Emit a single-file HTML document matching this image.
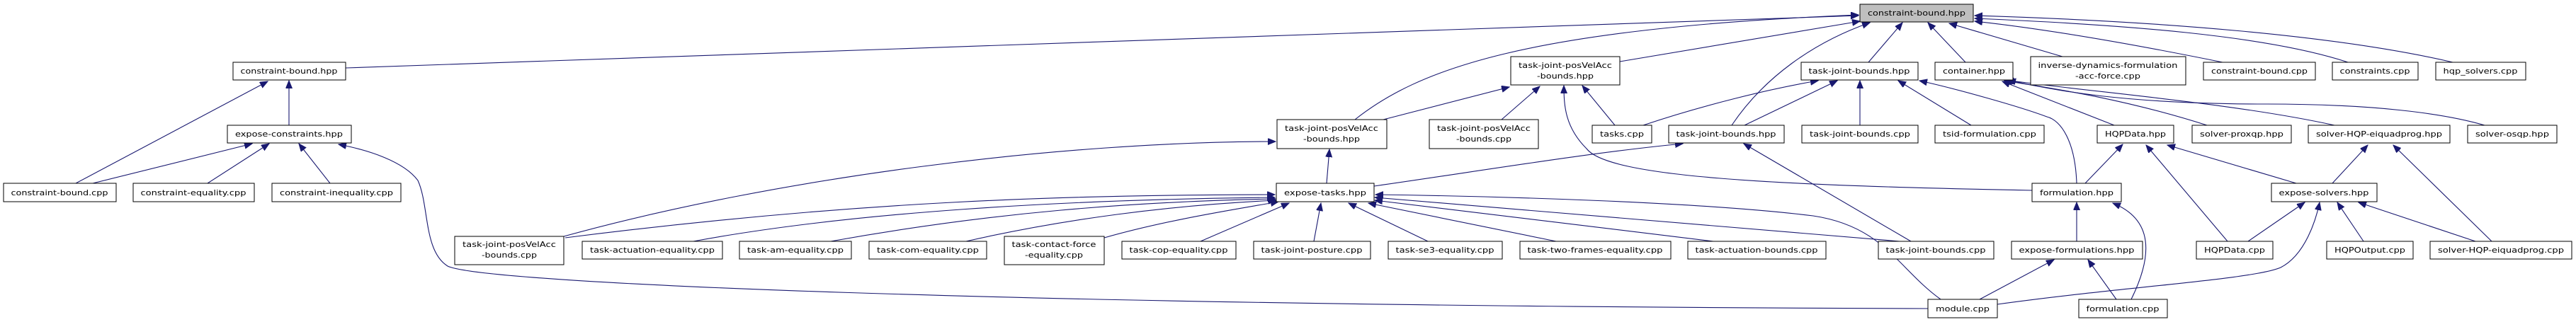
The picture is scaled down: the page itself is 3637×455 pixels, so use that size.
<!DOCTYPE html>
<html><head><meta charset="utf-8"><style>
html,body{margin:0;padding:0;background:#fff;}
svg{display:block;}
text{font-family:"DejaVu Sans","Liberation Sans",sans-serif;font-size:11px;fill:#000;}
rect{fill:#fff;stroke:#000;stroke-width:1;}
path{fill:none;stroke:#191970;stroke-width:1.1;}
</style></head><body>
<svg width="3637" height="455" viewBox="0 0 3637 455" xmlns="http://www.w3.org/2000/svg">
<defs><marker id="a" markerUnits="userSpaceOnUse" markerWidth="12" markerHeight="10" refX="11" refY="4.5" orient="auto"><path d="M0,0 L11,4.5 L0,9 Z" style="fill:#191970;stroke:#191970;stroke-width:1"/></marker></defs>
<g marker-end="url(#a)">
<path d="M488,96 L2624,22"/>
<path d="M1913,169 C2000,100 2150,40 2624,21"/>
<path d="M408,177 L408,114"/>
<path d="M107,259 L378,115"/>
<path d="M131,259 L356,203"/>
<path d="M293,259 L380,203"/>
<path d="M466,259 L422,203"/>
<path d="M2722,436 C1400,432 680,400 632,376 C598,355 606,290 590,255 C570,228 520,212 478,204"/>
<path d="M796,334 C1100,250 1500,200 1801,200"/>
<path d="M798,336 C1200,285 1500,275 1800,275"/>
<path d="M979,341 C1200,300 1500,282 1800,279"/>
<path d="M1173,341 C1400,300 1600,285 1801,281"/>
<path d="M1364,341 C1500,310 1650,290 1802,283"/>
<path d="M1559,336 C1650,310 1750,295 1805,285"/>
<path d="M1695,341 L1820,287"/>
<path d="M1855,341 L1865,287"/>
<path d="M2016,341 L1904,287"/>
<path d="M2197,341 L1932,287"/>
<path d="M2419,341 L1941,283"/>
<path d="M2682,341 L1941,279"/>
<path d="M2740,423 C2680,380 2660,320 2560,305 C2400,285 2100,277 1942,275"/>
<path d="M1873,259 L1877,211"/>
<path d="M1940,263 C2100,240 2250,215 2376,203"/>
<path d="M1953,169 L2131,123"/>
<path d="M2120,169 L2174,122"/>
<path d="M2280,177 L2234,121"/>
<path d="M2869,269 C2500,262 2270,250 2240,210 C2210,180 2208,150 2208,121"/>
<path d="M2287,87 L2626,30"/>
<path d="M2320,177 C2400,150 2500,125 2567,114"/>
<path d="M2463,177 L2594,114"/>
<path d="M2626,177 L2626,114"/>
<path d="M2445,177 C2490,110 2560,60 2640,32"/>
<path d="M2638,88 L2686,32"/>
<path d="M2698,341 L2462,203"/>
<path d="M2783,177 L2680,114"/>
<path d="M2932,259 C2930,200 2910,170 2890,165 C2850,150 2760,125 2710,114"/>
<path d="M2775,88 L2722,32"/>
<path d="M2912,80 L2752,33"/>
<path d="M3138,88 C3000,60 2880,40 2788,30"/>
<path d="M3315,88 C3200,50 3000,35 2788,26"/>
<path d="M3463,88 C3300,50 3050,30 2788,22"/>
<path d="M2985,177 L2827,115"/>
<path d="M3116,177 C3000,140 2900,125 2830,114"/>
<path d="M3296,177 C3150,145 2950,130 2832,113"/>
<path d="M3508,177 C3450,160 3350,147 3200,147 C3000,147 2900,128 2835,113"/>
<path d="M2944,259 L2997,204"/>
<path d="M3145,341 L3030,205"/>
<path d="M3242,259 L3060,205"/>
<path d="M3293,259 L3343,205"/>
<path d="M3518,341 L3379,205"/>
<path d="M2932,341 L2932,286"/>
<path d="M3009,423 C3040,360 3040,310 2983,287"/>
<path d="M2795,423 L2900,367"/>
<path d="M2988,423 L2948,367"/>
<path d="M3174,341 L3254,286"/>
<path d="M2820,430 C3000,405 3180,395 3220,378 C3255,360 3270,310 3275,286"/>
<path d="M3337,341 L3300,286"/>
<path d="M3495,341 L3330,286"/>
</g>
<g>
<rect x="2626" y="6" width="160" height="25" style="fill:#bfbfbf"/><text x="2706" y="22" text-anchor="middle" textLength="138" lengthAdjust="spacingAndGlyphs">constraint-bound.hpp</text>
<rect x="329" y="88" width="159" height="25"/><text x="408" y="104" text-anchor="middle" textLength="137" lengthAdjust="spacingAndGlyphs">constraint-bound.hpp</text>
<rect x="321" y="177" width="175" height="25"/><text x="408" y="193" text-anchor="middle" textLength="152" lengthAdjust="spacingAndGlyphs">expose-constraints.hpp</text>
<rect x="5" y="259" width="159" height="26"/><text x="84" y="276" text-anchor="middle" textLength="137" lengthAdjust="spacingAndGlyphs">constraint-bound.cpp</text>
<rect x="188" y="259" width="171" height="26"/><text x="273" y="276" text-anchor="middle" textLength="149" lengthAdjust="spacingAndGlyphs">constraint-equality.cpp</text>
<rect x="384" y="259" width="182" height="26"/><text x="475" y="276" text-anchor="middle" textLength="160" lengthAdjust="spacingAndGlyphs">constraint-inequality.cpp</text>
<rect x="642" y="334" width="154" height="40"/><text x="719" y="349" text-anchor="middle" textLength="132" lengthAdjust="spacingAndGlyphs">task-joint-posVelAcc</text><text x="719" y="364" text-anchor="middle" textLength="78" lengthAdjust="spacingAndGlyphs">-bounds.cpp</text>
<rect x="822" y="341" width="198" height="25"/><text x="921" y="357" text-anchor="middle" textLength="176" lengthAdjust="spacingAndGlyphs">task-actuation-equality.cpp</text>
<rect x="1044" y="341" width="158" height="25"/><text x="1123" y="357" text-anchor="middle" textLength="136" lengthAdjust="spacingAndGlyphs">task-am-equality.cpp</text>
<rect x="1227" y="341" width="166" height="25"/><text x="1310" y="357" text-anchor="middle" textLength="144" lengthAdjust="spacingAndGlyphs">task-com-equality.cpp</text>
<rect x="1418" y="334" width="141" height="40"/><text x="1488" y="349" text-anchor="middle" textLength="119" lengthAdjust="spacingAndGlyphs">task-contact-force</text><text x="1488" y="364" text-anchor="middle" textLength="82" lengthAdjust="spacingAndGlyphs">-equality.cpp</text>
<rect x="1584" y="341" width="161" height="25"/><text x="1664" y="357" text-anchor="middle" textLength="139" lengthAdjust="spacingAndGlyphs">task-cop-equality.cpp</text>
<rect x="1770" y="341" width="165" height="25"/><text x="1852" y="357" text-anchor="middle" textLength="143" lengthAdjust="spacingAndGlyphs">task-joint-posture.cpp</text>
<rect x="1960" y="341" width="161" height="25"/><text x="2040" y="357" text-anchor="middle" textLength="139" lengthAdjust="spacingAndGlyphs">task-se3-equality.cpp</text>
<rect x="2146" y="341" width="213" height="25"/><text x="2252" y="357" text-anchor="middle" textLength="191" lengthAdjust="spacingAndGlyphs">task-two-frames-equality.cpp</text>
<rect x="2383" y="341" width="195" height="25"/><text x="2480" y="357" text-anchor="middle" textLength="173" lengthAdjust="spacingAndGlyphs">task-actuation-bounds.cpp</text>
<rect x="2652" y="341" width="163" height="25"/><text x="2733" y="357" text-anchor="middle" textLength="141" lengthAdjust="spacingAndGlyphs">task-joint-bounds.cpp</text>
<rect x="1803" y="169" width="155" height="41"/><text x="1880" y="185" text-anchor="middle" textLength="132" lengthAdjust="spacingAndGlyphs">task-joint-posVelAcc</text><text x="1880" y="200" text-anchor="middle" textLength="80" lengthAdjust="spacingAndGlyphs">-bounds.hpp</text>
<rect x="1802" y="259" width="138" height="26"/><text x="1871" y="276" text-anchor="middle" textLength="116" lengthAdjust="spacingAndGlyphs">expose-tasks.hpp</text>
<rect x="2133" y="80" width="154" height="40"/><text x="2210" y="96" text-anchor="middle" textLength="132" lengthAdjust="spacingAndGlyphs">task-joint-posVelAcc</text><text x="2210" y="111" text-anchor="middle" textLength="80" lengthAdjust="spacingAndGlyphs">-bounds.hpp</text>
<rect x="2018" y="169" width="154" height="41"/><text x="2095" y="185" text-anchor="middle" textLength="132" lengthAdjust="spacingAndGlyphs">task-joint-posVelAcc</text><text x="2095" y="200" text-anchor="middle" textLength="78" lengthAdjust="spacingAndGlyphs">-bounds.cpp</text>
<rect x="2248" y="177" width="84" height="25"/><text x="2290" y="193" text-anchor="middle" textLength="62" lengthAdjust="spacingAndGlyphs">tasks.cpp</text>
<rect x="2356" y="177" width="163" height="25"/><text x="2437" y="193" text-anchor="middle" textLength="141" lengthAdjust="spacingAndGlyphs">task-joint-bounds.hpp</text>
<rect x="2544" y="177" width="164" height="25"/><text x="2626" y="193" text-anchor="middle" textLength="142" lengthAdjust="spacingAndGlyphs">task-joint-bounds.cpp</text>
<rect x="2543" y="88" width="165" height="25"/><text x="2625" y="104" text-anchor="middle" textLength="143" lengthAdjust="spacingAndGlyphs">task-joint-bounds.hpp</text>
<rect x="2732" y="88" width="110" height="25"/><text x="2787" y="104" text-anchor="middle" textLength="88" lengthAdjust="spacingAndGlyphs">container.hpp</text>
<rect x="2867" y="80" width="219" height="40"/><text x="2976" y="96" text-anchor="middle" textLength="197" lengthAdjust="spacingAndGlyphs">inverse-dynamics-formulation</text><text x="2976" y="111" text-anchor="middle" textLength="92" lengthAdjust="spacingAndGlyphs">-acc-force.cpp</text>
<rect x="3111" y="88" width="158" height="25"/><text x="3190" y="104" text-anchor="middle" textLength="136" lengthAdjust="spacingAndGlyphs">constraint-bound.cpp</text>
<rect x="3293" y="88" width="121" height="25"/><text x="3353" y="104" text-anchor="middle" textLength="99" lengthAdjust="spacingAndGlyphs">constraints.cpp</text>
<rect x="3439" y="88" width="127" height="25"/><text x="3502" y="104" text-anchor="middle" textLength="105" lengthAdjust="spacingAndGlyphs">hqp_solvers.cpp</text>
<rect x="2732" y="177" width="154" height="25"/><text x="2809" y="193" text-anchor="middle" textLength="132" lengthAdjust="spacingAndGlyphs">tsid-formulation.cpp</text>
<rect x="2961" y="177" width="108" height="25"/><text x="3015" y="193" text-anchor="middle" textLength="86" lengthAdjust="spacingAndGlyphs">HQPData.hpp</text>
<rect x="3095" y="177" width="140" height="25"/><text x="3165" y="193" text-anchor="middle" textLength="118" lengthAdjust="spacingAndGlyphs">solver-proxqp.hpp</text>
<rect x="3259" y="177" width="200" height="25"/><text x="3359" y="193" text-anchor="middle" textLength="178" lengthAdjust="spacingAndGlyphs">solver-HQP-eiquadprog.hpp</text>
<rect x="3484" y="177" width="126" height="25"/><text x="3547" y="193" text-anchor="middle" textLength="104" lengthAdjust="spacingAndGlyphs">solver-osqp.hpp</text>
<rect x="2869" y="259" width="126" height="26"/><text x="2932" y="276" text-anchor="middle" textLength="104" lengthAdjust="spacingAndGlyphs">formulation.hpp</text>
<rect x="3207" y="259" width="149" height="26"/><text x="3281" y="276" text-anchor="middle" textLength="127" lengthAdjust="spacingAndGlyphs">expose-solvers.hpp</text>
<rect x="2840" y="341" width="185" height="25"/><text x="2932" y="357" text-anchor="middle" textLength="163" lengthAdjust="spacingAndGlyphs">expose-formulations.hpp</text>
<rect x="3101" y="341" width="108" height="25"/><text x="3155" y="357" text-anchor="middle" textLength="86" lengthAdjust="spacingAndGlyphs">HQPData.cpp</text>
<rect x="3285" y="341" width="122" height="25"/><text x="3346" y="357" text-anchor="middle" textLength="100" lengthAdjust="spacingAndGlyphs">HQPOutput.cpp</text>
<rect x="3431" y="341" width="200" height="25"/><text x="3531" y="357" text-anchor="middle" textLength="178" lengthAdjust="spacingAndGlyphs">solver-HQP-eiquadprog.cpp</text>
<rect x="2722" y="423" width="98" height="26"/><text x="2771" y="440" text-anchor="middle" textLength="76" lengthAdjust="spacingAndGlyphs">module.cpp</text>
<rect x="2935" y="423" width="125" height="26"/><text x="2997" y="440" text-anchor="middle" textLength="103" lengthAdjust="spacingAndGlyphs">formulation.cpp</text>
</g>
</svg>
</body></html>
